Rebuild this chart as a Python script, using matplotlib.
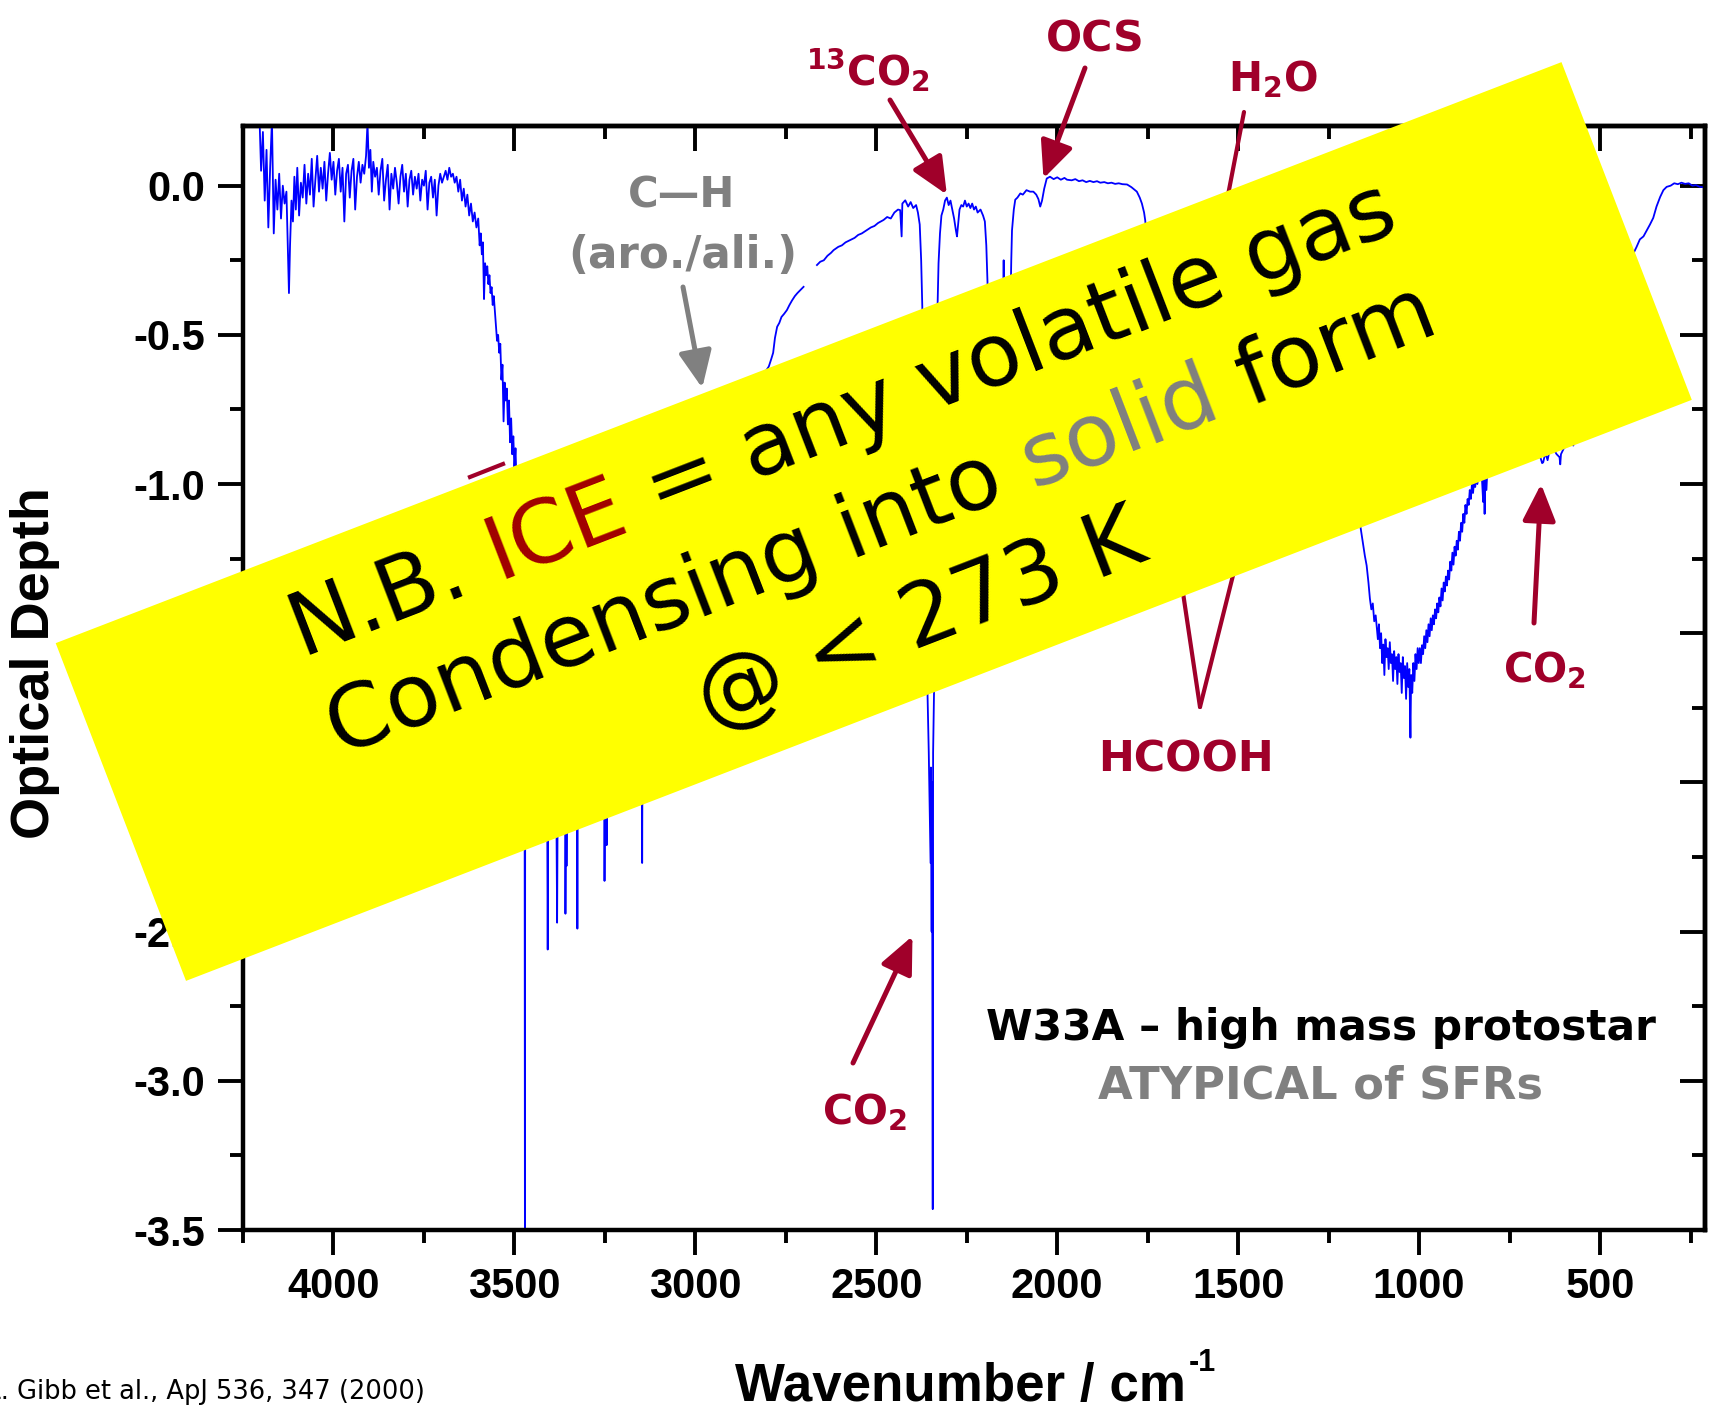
import numpy as np
import matplotlib
matplotlib.use("Agg")
import matplotlib.pyplot as plt
from matplotlib.ticker import MultipleLocator, FormatStrFormatter, NullFormatter
from matplotlib.patches import Polygon
from matplotlib.lines import Line2D

# ---------------- data ----------------
# segment A: noisy continuum + blue wing of the 3 micron H2O band
wn_a = [4205, 4200, 4195, 4190, 4185, 4180, 4175, 4170, 4165, 4160,
        4155, 4150, 4145, 4140, 4135, 4130, 4126, 4123, 4120, 4116,
        4112, 4108, 4104, 4100, 4095, 4090, 4085, 4080, 4075, 4070,
        4065, 4060, 4055, 4050, 4045, 4040, 4035, 4030, 4025, 4020,
        4015, 4010, 4005, 4000, 3995, 3990, 3985, 3980, 3975, 3970,
        3965, 3960, 3955, 3950, 3945, 3940, 3935, 3930, 3925, 3920,
        3915, 3910, 3906, 3902, 3898, 3894, 3890, 3885, 3880, 3875,
        3870, 3865, 3860, 3855, 3850, 3845, 3840, 3835, 3830, 3825,
        3820, 3815, 3810, 3805, 3800, 3795, 3790, 3785, 3780, 3775,
        3770, 3765, 3760, 3755, 3750, 3745, 3740, 3735, 3730, 3725,
        3720, 3715, 3710, 3705, 3700, 3695, 3690, 3685, 3680, 3675,
        3670, 3665, 3660, 3655, 3650, 3645, 3640, 3635, 3630, 3625,
        3620, 3615, 3610, 3605, 3600, 3596, 3593, 3590, 3587, 3584,
        3581, 3578, 3575, 3572, 3569, 3566, 3563, 3560, 3557, 3554,
        3551, 3548, 3545, 3542, 3539, 3536, 3533, 3530, 3527, 3524,
        3521, 3518, 3515, 3512, 3509, 3506, 3503, 3500, 3497, 3494,
        3490]
tau_a = [0.25, 0.05, 0.18, -0.05, 0.12, -0.14, 0.06, 0.22, -0.16, 0.02,
         -0.08, 0.04, -0.11, 0.00, -0.06, -0.02, -0.22, -0.36, -0.20, -0.05,
         -0.12, 0.03, -0.08, 0.06, -0.10, 0.01, -0.04, 0.07, -0.06, 0.04,
         -0.03, 0.09, -0.07, 0.02, 0.10, -0.02, 0.06, -0.01, 0.08, -0.05,
         0.04, 0.11, 0.02, 0.08, -0.03, 0.05, 0.09, -0.02, 0.06, -0.12,
         0.04, 0.07, -0.04, 0.05, 0.09, -0.08, 0.03, 0.08, 0.01, 0.07,
         0.04, 0.10, 0.21, 0.06, 0.12, -0.02, 0.08, 0.03, 0.06, -0.03,
         0.05, 0.09, -0.05, 0.02, 0.07, -0.08, 0.04, -0.01, 0.06, 0.01,
         -0.06, 0.03, 0.07, -0.02, 0.04, -0.07, 0.02, 0.05, -0.03, 0.03,
         -0.01, 0.04, -0.05, 0.02, 0.00, 0.05, -0.08, 0.01, 0.03, -0.04,
         0.02, -0.10, 0.00, 0.04, 0.01, 0.03, 0.05, 0.02, 0.06, 0.03,
         0.04, 0.01, 0.03, -0.02, 0.02, -0.05, -0.01, -0.07, -0.03, -0.10,
         -0.06, -0.12, -0.09, -0.14, -0.11, -0.20, -0.16, -0.23, -0.19, -0.38,
         -0.26, -0.30, -0.27, -0.33, -0.30, -0.36, -0.34, -0.40, -0.37, -0.42,
         -0.47, -0.52, -0.50, -0.56, -0.53, -0.65, -0.60, -0.79, -0.66, -0.72,
         -0.68, -0.80, -0.72, -0.86, -0.78, -0.90, -0.84, -0.95, -0.88, -1.00,
         -1.05]

# segment B: saturated 3 micron band (with spikes) and its red wing
wn_b = [3480, 3475, 3472, 3471, 3470, 3460, 3450, 3440, 3430, 3420,
        3410, 3408, 3406, 3395, 3385, 3382, 3380, 3370, 3360, 3359,
        3357, 3356, 3354, 3340, 3327, 3326, 3325, 3310, 3290, 3270,
        3252, 3251, 3249, 3246, 3245, 3244, 3220, 3200, 3170, 3148,
        3147, 3145, 3120, 3080, 3040, 3000, 2960, 2920, 2880, 2840,
        2810, 2797, 2790, 2785, 2780, 2774, 2768, 2762, 2755, 2747,
        2740, 2733, 2725, 2718, 2710, 2701]
tau_b = [-1.25, -1.45, -1.60, -3.50, -1.65, -1.75, -1.80, -1.85, -1.80, -1.90,
         -1.88, -2.56, -1.92, -1.95, -1.90, -2.47, -1.93, -1.92, -1.95, -2.44,
         -1.96, -2.28, -1.95, -1.90, -1.93, -2.49, -1.92, -1.88, -1.85, -1.80,
         -1.78, -2.33, -1.78, -1.76, -2.21, -1.75, -1.70, -1.62, -1.55, -1.45,
         -2.27, -1.44, -1.30, -1.15, -1.00, -0.90, -0.82, -0.76, -0.70, -0.66,
         -0.63, -0.606, -0.58, -0.56, -0.51, -0.473, -0.46, -0.44, -0.43, -0.417,
         -0.40, -0.385, -0.37, -0.36, -0.35, -0.339]

# segment C: CO2, 13CO2, CO, OCS region
wn_c = [2664, 2655, 2645, 2635, 2625, 2618, 2605, 2595, 2585, 2572,
        2560, 2550, 2540, 2526, 2515, 2505, 2495, 2480, 2470, 2460,
        2450, 2440, 2434, 2430, 2428, 2420, 2412, 2405, 2398, 2390,
        2385, 2380, 2376, 2372, 2368, 2362, 2355, 2350, 2349, 2347,
        2346, 2344, 2343, 2338, 2334, 2331, 2328, 2324, 2320, 2315,
        2310, 2305, 2300, 2295, 2290, 2285, 2280, 2277, 2274, 2270,
        2265, 2260, 2255, 2250, 2245, 2240, 2235, 2230, 2225, 2220,
        2212, 2205, 2200, 2196, 2192, 2188, 2180, 2170, 2160, 2150,
        2148, 2147, 2140, 2135, 2130, 2127, 2125, 2120, 2116, 2110,
        2102, 2095, 2085, 2075, 2066, 2058, 2052, 2047, 2042, 2036,
        2029, 2020, 2010, 2000, 1990, 1980, 1973, 1960, 1950, 1940,
        1930, 1920, 1910, 1900, 1890, 1881, 1870, 1860, 1850, 1840,
        1830, 1820, 1807, 1795, 1785, 1780, 1772, 1766, 1760, 1757,
        1750]
tau_c = [-0.266, -0.255, -0.25, -0.235, -0.225, -0.216, -0.205, -0.20, -0.19, -0.182,
         -0.175, -0.165, -0.16, -0.149, -0.14, -0.135, -0.125, -0.115, -0.105, -0.11,
         -0.09, -0.08, -0.082, -0.17, -0.06, -0.049, -0.07, -0.055, -0.075, -0.065,
         -0.09, -0.13, -0.25, -0.45, -0.90, -1.50, -1.90, -2.27, -1.95, -2.50,
         -2.00, -3.43, -1.90, -1.50, -0.90, -0.42, -0.26, -0.16, -0.10, -0.08,
         -0.05, -0.04, -0.065, -0.05, -0.08, -0.11, -0.15, -0.17, -0.13, -0.08,
         -0.065, -0.07, -0.05, -0.07, -0.06, -0.075, -0.06, -0.08, -0.07, -0.09,
         -0.08, -0.10, -0.12, -0.20, -0.35, -0.60, -0.90, -1.10, -1.20, -1.00,
         -0.25, -0.90, -1.20, -0.90, -0.45, -0.25, -0.15, -0.08, -0.047, -0.04,
         -0.026, -0.03, -0.015, -0.02, -0.02, -0.03, -0.045, -0.07, -0.05, -0.01,
         0.024, 0.03, 0.022, 0.028, 0.02, 0.026, 0.02, 0.018, 0.022, 0.015,
         0.018, 0.012, 0.016, 0.012, 0.015, 0.01, 0.012, 0.008, 0.01, 0.006,
         0.008, 0.005, 0.004, -0.005, -0.015, -0.02, -0.04, -0.06, -0.09, -0.115,
         -0.20]

# segment D: 6 - 8 micron region
wn_d = [1730, 1700, 1680, 1660, 1640, 1620, 1600, 1560, 1520, 1500,
        1460, 1430, 1400, 1350, 1300, 1250, 1220, 1200, 1180]
tau_d = [-0.35, -0.45, -0.55, -0.75, -0.80, -0.70, -0.55, -0.45, -0.50, -0.45,
         -0.55, -0.50, -0.45, -0.45, -0.50, -0.60, -0.70, -0.85, -1.00]

# segment E: silicate band
wn_e = [1163, 1155, 1150, 1145, 1140, 1136, 1132, 1128, 1124, 1120,
        1117, 1114, 1111, 1108, 1105, 1102, 1099, 1096, 1093, 1090,
        1087, 1084, 1081, 1078, 1075, 1072, 1069, 1066, 1063, 1060,
        1057, 1054, 1051, 1048, 1045, 1042, 1039, 1036, 1033, 1030,
        1027, 1024, 1022, 1019, 1016, 1013, 1010, 1007, 1004, 1001,
        998, 995, 992, 989, 986, 983, 980, 977, 974, 971,
        968, 965, 962, 959, 956, 953, 950, 947, 944, 941,
        938, 935, 932, 929, 926, 923, 920, 917, 914, 911,
        908, 905, 902, 899, 896, 893, 890, 887, 884, 881,
        878, 875, 872, 869, 866, 863, 860, 857, 854, 851,
        848, 845, 842, 839, 835, 832, 829, 826, 823, 821,
        819, 817, 814, 811]
tau_e = [-1.135, -1.20, -1.24, -1.273, -1.33, -1.384, -1.42, -1.40, -1.46, -1.44,
         -1.481, -1.52, -1.47, -1.55, -1.50, -1.60, -1.538, -1.64, -1.52, -1.58,
         -1.55, -1.62, -1.53, -1.60, -1.57, -1.66, -1.56, -1.62, -1.58, -1.67,
         -1.57, -1.63, -1.60, -1.70, -1.58, -1.65, -1.61, -1.72, -1.60, -1.68,
         -1.62, -1.85, -1.64, -1.70, -1.60, -1.66, -1.57, -1.62, -1.55, -1.60,
         -1.55, -1.60, -1.54, -1.57, -1.51, -1.55, -1.49, -1.53, -1.47, -1.51,
         -1.45, -1.49, -1.44, -1.47, -1.42, -1.45, -1.40, -1.43, -1.38, -1.41,
         -1.35, -1.39, -1.33, -1.36, -1.31, -1.34, -1.29, -1.32, -1.26, -1.29,
         -1.23, -1.27, -1.21, -1.24, -1.19, -1.22, -1.16, -1.19, -1.13, -1.16,
         -1.10, -1.13, -1.07, -1.10, -1.05, -1.07, -1.02, -1.05, -1.00, -1.03,
         -0.99, -1.01, -0.97, -1.00, -0.96, -0.98, -0.95, -0.99, -1.06, -0.97,
         -1.10, -0.96, -1.02, -0.94]

# segment F: CO2 bending mode and far-IR end
wn_f = [800, 780, 760, 740, 720, 700, 680, 670, 665, 660,
        657, 654, 650, 645, 640, 630, 620, 612, 610, 608,
        600, 590, 580, 574, 570, 550, 520, 500, 480, 460,
        440, 420, 405, 399, 390, 380, 371, 362, 353, 344,
        334, 325, 316, 305, 295, 285, 275, 265, 255, 245,
        235, 224, 215]
tau_f = [-0.92, -0.90, -0.88, -0.87, -0.86, -0.87, -0.88, -0.90, -0.91, -0.93,
         -0.927, -0.91, -0.90, -0.92, -0.89, -0.88, -0.90, -0.91, -0.934, -0.90,
         -0.88, -0.87, -0.86, -0.871, -0.85, -0.80, -0.70, -0.60, -0.50, -0.40,
         -0.32, -0.26, -0.22, -0.205, -0.18, -0.17, -0.15, -0.13, -0.108, -0.07,
         -0.038, -0.015, -0.004, 0.0, 0.008, 0.005, 0.01, 0.006, 0.008, 0.0,
         0.002, -0.004, -0.005]

x_ticks = [4000, 3500, 3000, 2500, 2000, 1500, 1000, 500]
y_ticks = [0.0, -0.5, -1.0, -1.5, -2.0, -2.5, -3.0, -3.5]

# annotation targets (wavenumber, optical depth) of the arrow tips
tip_13co2 = (2305, -0.03)
tip_ocs = (2038, 0.024)
tip_ch = (2981, -0.678)
tip_co2_str = (2400, -2.515)
tip_co2_bend = (663, -1.0)
tip_h2o = (1650, -0.80)
tip_hcooh = [(1707, -0.92), (1448, -0.985)]

for a, b in [(wn_a, tau_a), (wn_b, tau_b), (wn_c, tau_c), (wn_d, tau_d),
             (wn_e, tau_e), (wn_f, tau_f)]:
    assert len(a) == len(b)

# ---------------- styling ----------------
plt.rcParams['axes.unicode_minus'] = False
plt.rcParams['font.family'] = ['Liberation Sans', 'DejaVu Sans']
plt.rcParams['font.weight'] = 'bold'
plt.rcParams['mathtext.fontset'] = 'custom'
plt.rcParams['mathtext.rm'] = 'DejaVu Sans:bold'
plt.rcParams['mathtext.it'] = 'DejaVu Sans:bold'
plt.rcParams['mathtext.bf'] = 'DejaVu Sans:bold'
plt.rcParams['mathtext.default'] = 'rm'

RED = '#A0002A'
ICE_RED = '#A00000'
GREY = '#808080'
BLUE = '#0000FF'

W, H = 1719, 1406
fig = plt.figure(figsize=(W / 100, H / 100), dpi=100)
L, R, T, B = 243, 1705, 126, 1230
ax = fig.add_axes([L / W, 1 - B / H, (R - L) / W, (B - T) / H])


def fig_frac(x, y):
    return (x / W, 1 - y / H)


nan = float('nan')
wn = np.concatenate([wn_a, wn_b, [nan], wn_c, wn_d, wn_e, wn_f])
tau = np.concatenate([tau_a, tau_b, [nan], tau_c, tau_d, tau_e, tau_f])
ax.plot(wn, tau, color=BLUE, lw=1.3, zorder=2)

ax.set_xlim(4250, 210)
ax.set_ylim(-3.5, 0.2)
ax.set_xticks(x_ticks)
ax.set_yticks(y_ticks)
ax.xaxis.set_minor_locator(MultipleLocator(250))
ax.yaxis.set_minor_locator(MultipleLocator(0.25))
ax.xaxis.set_major_formatter(FormatStrFormatter('%d'))
ax.yaxis.set_major_formatter(FormatStrFormatter('%.1f'))
ax.tick_params(which='major', direction='out', length=18, width=2.8, pad=9,
               labelsize=30)
ax.tick_params(which='minor', direction='out', length=9.5, width=2.8)
for sp in ax.spines.values():
    sp.set_linewidth(3.2)

secx = ax.secondary_xaxis('top')
secx.set_xticks(x_ticks)
secx.xaxis.set_minor_locator(MultipleLocator(250))
secx.xaxis.set_major_formatter(NullFormatter())
secx.tick_params(which='major', direction='in', length=18, width=2.8)
secx.tick_params(which='minor', direction='in', length=9.5, width=2.8)
secx.spines['top'].set_linewidth(3.2)

secy = ax.secondary_yaxis('right')
secy.set_yticks(y_ticks)
secy.yaxis.set_minor_locator(MultipleLocator(0.25))
secy.yaxis.set_major_formatter(NullFormatter())
secy.tick_params(which='major', direction='in', length=18, width=2.8)
secy.tick_params(which='minor', direction='in', length=9.5, width=2.8)
secy.spines['right'].set_linewidth(3.2)

# ---------------- arrows ----------------
ARROW = dict(arrowstyle='-|>,head_length=0.8,head_width=0.36',
             mutation_scale=28, lw=3.6, shrinkA=0, shrinkB=0)


def arrow(tip, start_px, color, lw=3.6):
    props = dict(ARROW)
    props['lw'] = lw
    ax.annotate('', xy=tip, xycoords='data', xytext=fig_frac(*start_px),
                textcoords='figure fraction',
                arrowprops=dict(color=color, **props), annotation_clip=False)


arrow(tip_13co2, (890, 100), RED)
arrow(tip_ocs, (1085, 68), RED)
arrow(tip_ch, (683, 287), GREY)
arrow(tip_co2_str, (853, 1063), RED)
arrow(tip_co2_bend, (1534, 623), RED)
arrow(tip_h2o, (1244, 112), RED, lw=3.0)
for tp in tip_hcooh:
    arrow(tp, (1200, 707), RED, lw=3.0)

# red label fragment peeking out from beneath the yellow note
fig.add_artist(Line2D([470 / W, 503 / W], [1 - 477 / H, 1 - 464 / H],
                      color=RED, lw=3, zorder=3))

# ---------------- text helpers ----------------
renderer = fig.canvas.get_renderer()


def width_px(s, **kw):
    t = fig.text(0, 0, s, **kw)
    w = t.get_window_extent(renderer).width
    t.remove()
    return w


def fit(s, target, **kw):
    return 20 * target / width_px(s, fontsize=20, **kw)


COMIC_B = dict(family=['DejaVu Sans'], weight='bold')
COMIC = dict(family=['DejaVu Sans'], weight='normal')

labels = [
    (r'$^{13}$CO$_2$', 867.5, 85, 125, RED),
    ('OCS', 1095.7, 51, 98.5, RED),
    (r'H$_2$O', 1272.7, 91.5, 90.5, RED),
    ('HCOOH', 1186.3, 772, 175.4, RED),
    (r'CO$_2$', 865, 1124, 86, RED),
    (r'CO$_2$', 1545, 682, 84, RED),
    ('C\u2014H', 681.5, 208, 107, GREY),
    ('(aro./ali.)', 683, 268, 230, GREY),
    ('W33A \u2013 high mass protostar', 1320.5, 1040, 669, 'black'),
    ('ATYPICAL of SFRs', 1320.8, 1098.6, 444.5, GREY),
]
for s, cx, by, wpx, c in labels:
    fs = fit(s, wpx, **COMIC_B)
    fig.text(cx / W, 1 - by / H, s, ha='center', va='baseline', fontsize=fs,
             color=c, zorder=3, **COMIC_B)

# axis titles
AX = dict(family=['Liberation Sans'], weight='bold')
fs_y = fit('Optical Depth', 351, **AX)
fig.text(35.5 / W, 1 - 663 / H, 'Optical Depth', rotation=90, ha='center',
         va='center', fontsize=fs_y, zorder=3, **AX)
fs_x = fit('Wavenumber / cm', 451, **AX)
fig.text(1186 / W, 1 - 1401 / H, 'Wavenumber / cm', ha='right', va='baseline',
         fontsize=fs_x, zorder=3, **AX)
fig.text(1189 / W, 1 - 1371 / H, '-1', ha='left', va='baseline', fontsize=22,
         zorder=3, **AX)

# citation (partly cut off at the left edge, as in the original)
fs_c = fit('Gibb et al., ApJ 536, 347 (2000)', 408.5, **COMIC)
fig.text(425 / W, 1 - 1399 / H, 'E.L. Gibb et al., ApJ 536, 347 (2000)',
         ha='right', va='baseline', fontsize=fs_c, zorder=3, **COMIC)

# ---------------- yellow note ----------------
theta = 21.1
ct, st = np.cos(np.radians(theta)), np.sin(np.radians(theta))
cx0, cy0 = 873.75, 521.5        # centre, image pixels
Lb, Sb = 1614.0, 362.0
u = np.array([ct, -st])          # along the note, image coords
nvec = np.array([st, ct])        # across the note, image coords
c0 = np.array([cx0, cy0])
corners = [c0 - Lb / 2 * u - Sb / 2 * nvec, c0 + Lb / 2 * u - Sb / 2 * nvec,
           c0 + Lb / 2 * u + Sb / 2 * nvec, c0 - Lb / 2 * u + Sb / 2 * nvec]
poly = Polygon([fig_frac(*p) for p in corners], closed=True,
               transform=fig.transFigure, facecolor='#FFFF00',
               edgecolor='none', zorder=5)
fig.add_artist(poly)

box_lines = [
    [('N.B. ', 'black'), ('ICE', ICE_RED), (' = any volatile gas', 'black')],
    [('Condensing into ', 'black'), ('solid', GREY), (' form', 'black')],
    [('@ < 273 K', 'black')],
]
fsb = fit('Condensing into solid form', 1182, **COMIC)
em = fsb * 100 / 72
spacing = 108
mid = np.array([879.0, 514.0])
for i, segs in enumerate(box_lines):
    off = (i - 1) * spacing + 0.36 * em
    p = mid + off * nvec                      # baseline centre, image coords
    dx, dy = p[0], H - p[1]                   # display coords
    full = ''.join(s for s, c in segs)
    wl = width_px(full, fontsize=fsb, **COMIC)
    x0 = dx - wl / 2 * ct
    y0 = dy - wl / 2 * st
    pos = 0
    for s, c in segs:
        stripped = s.strip()
        if stripped:
            lead = len(s) - len(s.lstrip())
            end = pos + lead + len(stripped)
            o = (width_px(full[:end], fontsize=fsb, **COMIC)
                 - width_px(stripped, fontsize=fsb, **COMIC))
            fig.text((x0 + o * ct) / W, (y0 + o * st) / H, stripped,
                     rotation=theta, rotation_mode='anchor', ha='left',
                     va='baseline', fontsize=fsb, color=c, zorder=6, **COMIC)
        pos += len(s)

fig.savefig('out.png', dpi=100, facecolor='white')
